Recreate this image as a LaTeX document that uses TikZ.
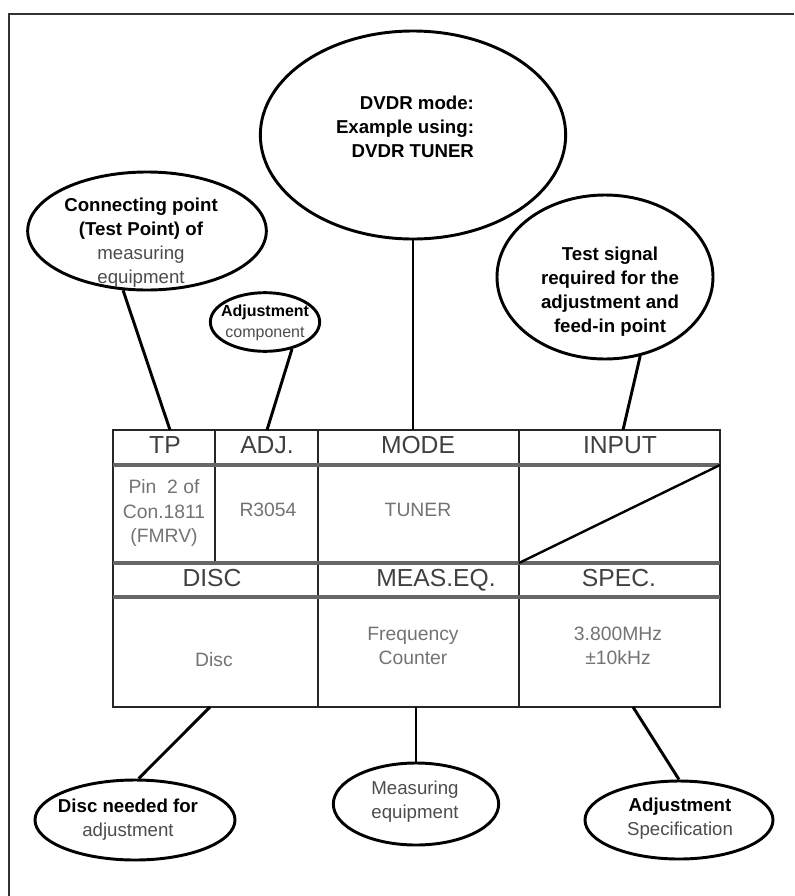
\documentclass[tikz,border=0pt]{standalone}
\usepackage{fontspec}
\setmainfont{Liberation Sans}
\usetikzlibrary{shapes.geometric}
\begin{document}
\begin{tikzpicture}[x=0.75pt,y=-0.75pt,
  bubble/.style={draw,ellipse,line width=2.2pt,inner sep=0pt},
  note/.style={align=center,font=\fontsize{14}{18}\selectfont,text=black!70},
  head/.style={font=\fontsize{18.5}{20}\selectfont,text=black!75,text height=13pt,text depth=3pt},
  cell/.style={align=center,font=\fontsize{14.5}{18.5}\selectfont,text=black!55},
  wire/.style={line width=2.2pt}]
\useasboundingbox (0,0) rectangle (794,896);
\draw[line width=2.2pt,black!80] (8,14)--(794,14) (9,14)--(9,896);
\draw[line width=1.8pt,black!85] (113,430) rectangle (720,707);
\draw[line width=1.8pt,black!85] (215,430)--(215,563) (318,430)--(318,707) (519,430)--(519,707);
\draw[line width=2.8pt,black!60] (113,465)--(720,465) (113,563)--(720,563) (113,597)--(720,597);
\draw[line width=1.8pt] (519,563)--(720,465);
\node[head] (tp) at (165,447) {TP};
\node[head] (adj) at (267,447) {ADJ.};
\node[head] (mode) at (418,447) {MODE};
\node[head] (input) at (620,447) {INPUT};
\node[head] (disc) at (212,580) {DISC};
\node[head] (meas) at (436,580) {MEAS.EQ.};
\node[head] (spec) at (619,580) {SPEC.};
\node[cell] (tpval) at (164,513) {Pin~ 2 of\\Con.1811\\(FMRV)};
\node[cell] (adjval) at (268,510) {R3054};
\node[cell] (modeval) at (418,510) {TUNER};
\node[cell] (discval) at (214,660) {Disc};
\node[cell] (measval) at (413,646) {Frequency\\Counter};
\node[cell] (specval) at (618,646) {3.800MHz\\±10kHz};
\coordinate (tpIn) at (170,430);
\coordinate (adjIn) at (267,430);
\coordinate (modeIn) at (413,430);
\coordinate (inputIn) at (623,430);
\coordinate (discOut) at (210,707);
\coordinate (measOut) at (416,707);
\coordinate (specOut) at (633,707);
\node[bubble,minimum width=229pt,minimum height=156pt] (dvdrB) at (413,135) {};
\node[note,align=right,text=black] (dvdrT) at (405,127) {\textbf{DVDR mode:}\\\textbf{Example using:}\\\textbf{DVDR TUNER}};
\node[bubble,minimum width=179pt,minimum height=88.5pt] (tpB) at (147,231) {};
\node[note] (tpT) at (141,243) {\textcolor{black}{\textbf{Connecting point}}\\\textcolor{black}{\textbf{(Test Point) of}}\\measuring\\equipment};
\node[bubble,minimum width=82pt,minimum height=44pt] (adjB) at (265,322) {};
\node[note,font=\fontsize{12}{16}\selectfont] (adjT) at (265,323) {\textcolor{black}{\textbf{Adjustment}}\\component};
\node[bubble,minimum width=162pt,minimum height=123pt] (inputB) at (605,277) {};
\node[note,text=black] (inputT) at (610,292) {\textbf{Test signal}\\\textbf{required for the}\\\textbf{adjustment and}\\\textbf{feed-in point}};
\node[bubble,minimum width=150pt,minimum height=60pt] (discB) at (135,820) {};
\node[note] (discT) at (128,820) {\textcolor{black}{\textbf{Disc needed for}}\\adjustment};
\node[bubble,minimum width=124pt,minimum height=61.5pt] (measB) at (416,804) {};
\node[note] (measT) at (415,802) {Measuring\\equipment};
\node[bubble,minimum width=141pt,minimum height=58.5pt] (specB) at (679,820) {};
\node[note] (specT) at (680,819) {\textcolor{black}{\textbf{Adjustment}}\\Specification};
\draw[wire] (tpB.-112)--(tpIn);
\draw[wire] (adjB.-45)--(adjIn);
\draw[wire] (dvdrB)--(modeIn);
\draw[wire] (inputB.-66)--(inputIn);
\draw[wire] (discB.85)--(discOut);
\draw[wire] (measB)--(measOut);
\draw[wire] (specB.north)--(specOut);
\end{tikzpicture}
\end{document}
